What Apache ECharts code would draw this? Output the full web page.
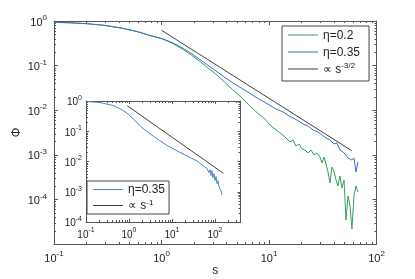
<!DOCTYPE html>
<html><head><meta charset="utf-8">
<script src="https://cdn.jsdelivr.net/npm/echarts@6/dist/echarts.min.js"></script>
<style>html,body{margin:0;padding:0;background:#fff}#c{width:415px;height:279px}</style>
</head><body><div id="c"></div>
<script>
// ---- data ----
const s_eta02 = [0.1,0.141,0.203,0.292,0.420,0.591,0.782,1.01,1.25,1.59,1.92,2.28,2.71,3.28,3.90,4.62,5.61,6.65,7.90,8.97,10.2,11.4,12.7,13.8,14.7,15.7,16.7,17.8,19.0,20.3,21.6,23.1,24.6,26.2,28.0,29.8,31.1,32.5,33.9,35.4,36.9,38.5,40.2,42.0,43.8,45.7,47.7,49.9,52.0,54.3,56.6,59.1,61.8,64.4,67.3];
const phi_eta02 = [0.935,0.911,0.870,0.801,0.697,0.582,0.473,0.399,0.321,0.230,0.168,0.1236,0.0883,0.0615,0.0418,0.0284,0.0188,0.0124,0.00844,0.00668,0.00466,0.00379,0.00308,0.00264,0.00226,0.00194,0.00215,0.00157,0.00175,0.00135,0.00128,0.00110,0.00128,0.000991,0.00110,0.000893,0.000655,0.000893,0.000622,0.000411,0.000233,0.000532,0.000433,0.000272,0.000200,0.000335,0.000180,0.000272,0.0000345,0.000119,0.0000748,0.0000217,0.000126,0.000200,0.000147];
const s_eta035 = [0.1,0.141,0.203,0.292,0.420,0.591,0.782,1.01,1.25,1.59,1.92,2.28,2.71,3.28,3.90,4.62,5.61,6.65,7.90,9.58,11.4,13.5,15.7,18.2,20.7,23.1,25.7,28.6,31.1,33.9,36.9,40.2,42.9,45.7,48.8,52.0,54.3,56.6,59.1,61.8,64.4,67.3];
const phi_eta035 = [0.935,0.911,0.870,0.801,0.697,0.582,0.473,0.405,0.330,0.244,0.182,0.137,0.1005,0.0733,0.0541,0.0407,0.0307,0.0237,0.0183,0.0141,0.0109,0.00912,0.00723,0.00603,0.00491,0.00442,0.00360,0.00324,0.00278,0.00238,0.00215,0.00175,0.00184,0.00128,0.00116,0.000991,0.000848,0.000940,0.000764,0.000848,0.000411,0.000690];
const s_ref32 = [1.0, 58.7];
const phi_ref32 = [0.62, 0.00124];
const s_inset = [0.103,0.212,0.425,0.618,0.899,1.31,1.90,2.77,4.48,7.65,13.1,22.3,38.1,52.6,65.2,72.5,76.5,80.7,85.1,89.8,94.8,100,105.4,111.4,117.5,123.9,130.6,138.0,145.5];
const phi_inset = [0.962,0.891,0.708,0.562,0.398,0.242,0.141,0.0926,0.0562,0.0341,0.0224,0.0153,0.0104,0.00736,0.00585,0.00430,0.00541,0.00341,0.00500,0.00293,0.00398,0.00233,0.00316,0.00185,0.00233,0.00147,0.00171,0.00108,0.000794];
const s_ref1 = [0.91, 156];
const phi_ref1 = [0.70, 0.00408];
const mainX = [0.1, 100];
const mainY = [1e-5, 1];
const insetX = [0.1, 392];
const insetY = [1e-4, 1];
const minorMult = [2,3,4,5,6,7,8,9];
const legendText = {
  'η=0.2': '{b|η=0.2}',
  'η=0.35': '{b|η=0.35}',
  '∝ s^-3/2': '{b|∝ s}{sup|-3/2}',
  'η=0.35 (inset)': '{b|η=0.35}',
  '∝ s^-1': '{b|∝ s}{sup|-1}'
};

// ---- styling ----
const FONT = "'Liberation Sans', Arial, Helvetica, sans-serif";
const AX = '#555';
const TXT = '#222';
const GREEN = '#35a060';
const BLUE = '#3b70c6';
const BLUE_IN = '#4a86d2';
const REF = '#404040';

const zip = (a, b) => a.map((v, i) => [v, b[i]]);
function powFmt(hideExp) {
  return function (v) {
    const l = Math.log10(v), e = Math.round(l);
    if (Math.abs(l - e) > 0.01 || e === hideExp) return '';
    return '{b|10}{sup|' + e + '}';
  };
}
function rich(base, supSize, raise) {
  return {
    b: {fontSize: base, lineHeight: base + 3, verticalAlign: 'bottom', fontFamily: FONT, color: TXT},
    sup: {fontSize: supSize, lineHeight: supSize, padding: [0, 0, raise, 0], verticalAlign: 'top', fontFamily: FONT, color: TXT}
  };
}
function legendRich(lh) {
  return {
    b: {fontSize: 12, lineHeight: lh, verticalAlign: 'bottom', fontFamily: FONT, color: TXT},
    sup: {fontSize: 8, lineHeight: 8, padding: [0, 0, lh - 7, 0], verticalAlign: 'top', fontFamily: FONT, color: TXT}
  };
}
function minorVals(range) {
  const out = [];
  const lo = Math.floor(Math.log10(range[0])), hi = Math.ceil(Math.log10(range[1]));
  for (let d = lo; d < hi; d++) {
    minorMult.forEach(k => { const v = k * Math.pow(10, d); if (v > range[0] && v < range[1]) out.push(v); });
  }
  return out;
}
function minorSeries(gi, axis, vals, other, len) {
  return {
    type: 'custom', xAxisIndex: gi * 2, yAxisIndex: gi * 2, clip: false, silent: true, z: 5,
    data: vals.map(v => axis === 'x' ? [v, other[0]] : [other[0], v]),
    renderItem: function (params, api) {
      let lines;
      if (axis === 'x') {
        const v = api.value(0);
        const a = api.coord([v, other[0]]), b = api.coord([v, other[1]]);
        const x = Math.round(a[0]) + 0.5;
        lines = [[x, a[1], x, a[1] - len], [x, b[1], x, b[1] + len]];
      } else {
        const v = api.value(1);
        const a = api.coord([other[0], v]), b = api.coord([other[1], v]);
        const y = Math.round(a[1]) + 0.5;
        lines = [[a[0], y, a[0] + len, y], [b[0], y, b[0] - len, y]];
      }
      return {type: 'group', children: lines.map(l => ({
        type: 'line', shape: {x1: l[0], y1: l[1], x2: l[2], y2: l[3]}, style: {stroke: AX, lineWidth: 1}
      }))};
    }
  };
}
function ax(gi, pos, range, showLabel, tickLen, extra) {
  return Object.assign({
    type: 'log', logBase: 10, gridIndex: gi, position: pos, min: range[0], max: range[1],
    axisLine: {show: true, onZero: false, lineStyle: {color: AX, width: 1}},
    axisTick: {show: true, inside: true, length: tickLen, lineStyle: {color: AX}},
    splitLine: {show: false}, minorTick: {show: false}, minorSplitLine: {show: false},
    axisLabel: {show: showLabel}
  }, extra || {});
}

const chart = echarts.init(document.getElementById('c'), null, {renderer: 'canvas'});
const option = {
  animation: false,
  backgroundColor: '#fff',
  textStyle: {fontFamily: FONT},
  grid: [
    {left: 54, top: 21, width: 322.5, height: 223, containLabel: false, outerBoundsMode: 'none'},
    {left: 86, top: 101, width: 154.5, height: 121, containLabel: false, outerBoundsMode: 'none',
     show: true, backgroundColor: '#fff', borderWidth: 0, z: 3}
  ],
  xAxis: [
    ax(0, 'bottom', mainX, true, 4, {
      axisLabel: {show: true, margin: 6, formatter: powFmt(null), rich: rich(11, 8, 9)},
      name: 's', nameLocation: 'middle', nameGap: 21, nameMoveOverlap: false,
      nameTextStyle: {fontSize: 12, color: TXT, fontFamily: FONT}
    }),
    ax(0, 'top', mainX, false, 4),
    ax(1, 'bottom', insetX, true, 3, {
      axisLabel: {show: true, margin: 5, formatter: powFmt(null), rich: rich(10, 7, 8)}, z: 4
    }),
    ax(1, 'top', insetX, false, 3, {z: 4})
  ],
  yAxis: [
    ax(0, 'left', mainY, true, 4, {
      axisLabel: {show: true, margin: 7, formatter: powFmt(-5), rich: rich(11, 8, 9)},
      name: 'Φ', nameLocation: 'middle', nameGap: 31, nameMoveOverlap: false,
      nameTextStyle: {fontSize: 12, color: TXT, fontFamily: FONT}
    }),
    ax(0, 'right', mainY, false, 4),
    ax(1, 'left', insetY, true, 3, {
      axisLabel: {show: true, margin: 4, formatter: powFmt(null), rich: rich(10, 7, 8)}, z: 4
    }),
    ax(1, 'right', insetY, false, 3, {z: 4})
  ],
  legend: [
    {
      data: ['η=0.2', 'η=0.35', '∝ s^-3/2'], orient: 'vertical', left: 282, top: 26,
      padding: [2, 9, 4, 6], itemGap: 3, itemWidth: 30, itemHeight: 1, icon: 'rect',
      borderColor: '#444', borderWidth: 1, backgroundColor: '#fff', selectedMode: false,
      formatter: n => legendText[n],
      textStyle: {fontSize: 12, lineHeight: 14, color: TXT, fontFamily: FONT, rich: legendRich(14)}
    },
    {
      data: ['η=0.35 (inset)', '∝ s^-1'], orient: 'vertical', left: 87, top: 181, z: 6,
      padding: [2, 4, 1, 6], itemGap: 3, itemWidth: 30, itemHeight: 1, icon: 'rect',
      borderColor: '#444', borderWidth: 1, backgroundColor: '#fff', selectedMode: false,
      formatter: n => legendText[n],
      textStyle: {fontSize: 12, lineHeight: 13, color: TXT, fontFamily: FONT, rich: legendRich(13)}
    }
  ],
  series: [
    {name: 'η=0.2', type: 'line', xAxisIndex: 0, yAxisIndex: 0, symbol: 'none', data: zip(s_eta02, phi_eta02),
     lineStyle: {color: GREEN, width: 1}, itemStyle: {color: GREEN}, z: 2},
    {name: 'η=0.35', type: 'line', xAxisIndex: 0, yAxisIndex: 0, symbol: 'none', data: zip(s_eta035, phi_eta035),
     lineStyle: {color: BLUE, width: 1}, itemStyle: {color: BLUE}, z: 2},
    {name: '∝ s^-3/2', type: 'line', xAxisIndex: 0, yAxisIndex: 0, symbol: 'none', data: zip(s_ref32, phi_ref32),
     lineStyle: {color: REF, width: 1}, itemStyle: {color: REF}, z: 2},
    {name: 'η=0.35 (inset)', type: 'line', xAxisIndex: 2, yAxisIndex: 2, symbol: 'none', data: zip(s_inset, phi_inset),
     lineStyle: {color: BLUE_IN, width: 1}, itemStyle: {color: BLUE_IN}, z: 4},
    {name: '∝ s^-1', type: 'line', xAxisIndex: 2, yAxisIndex: 2, symbol: 'none', data: zip(s_ref1, phi_ref1),
     lineStyle: {color: REF, width: 1}, itemStyle: {color: REF}, z: 4},
    minorSeries(0, 'x', minorVals(mainX), mainY, 2),
    minorSeries(0, 'y', minorVals(mainY), mainX, 2),
    minorSeries(1, 'x', minorVals(insetX), insetY, 2),
    minorSeries(1, 'y', minorVals(insetY), insetX, 2)
  ]
};
chart.setOption(option);
</script>
</body></html>
